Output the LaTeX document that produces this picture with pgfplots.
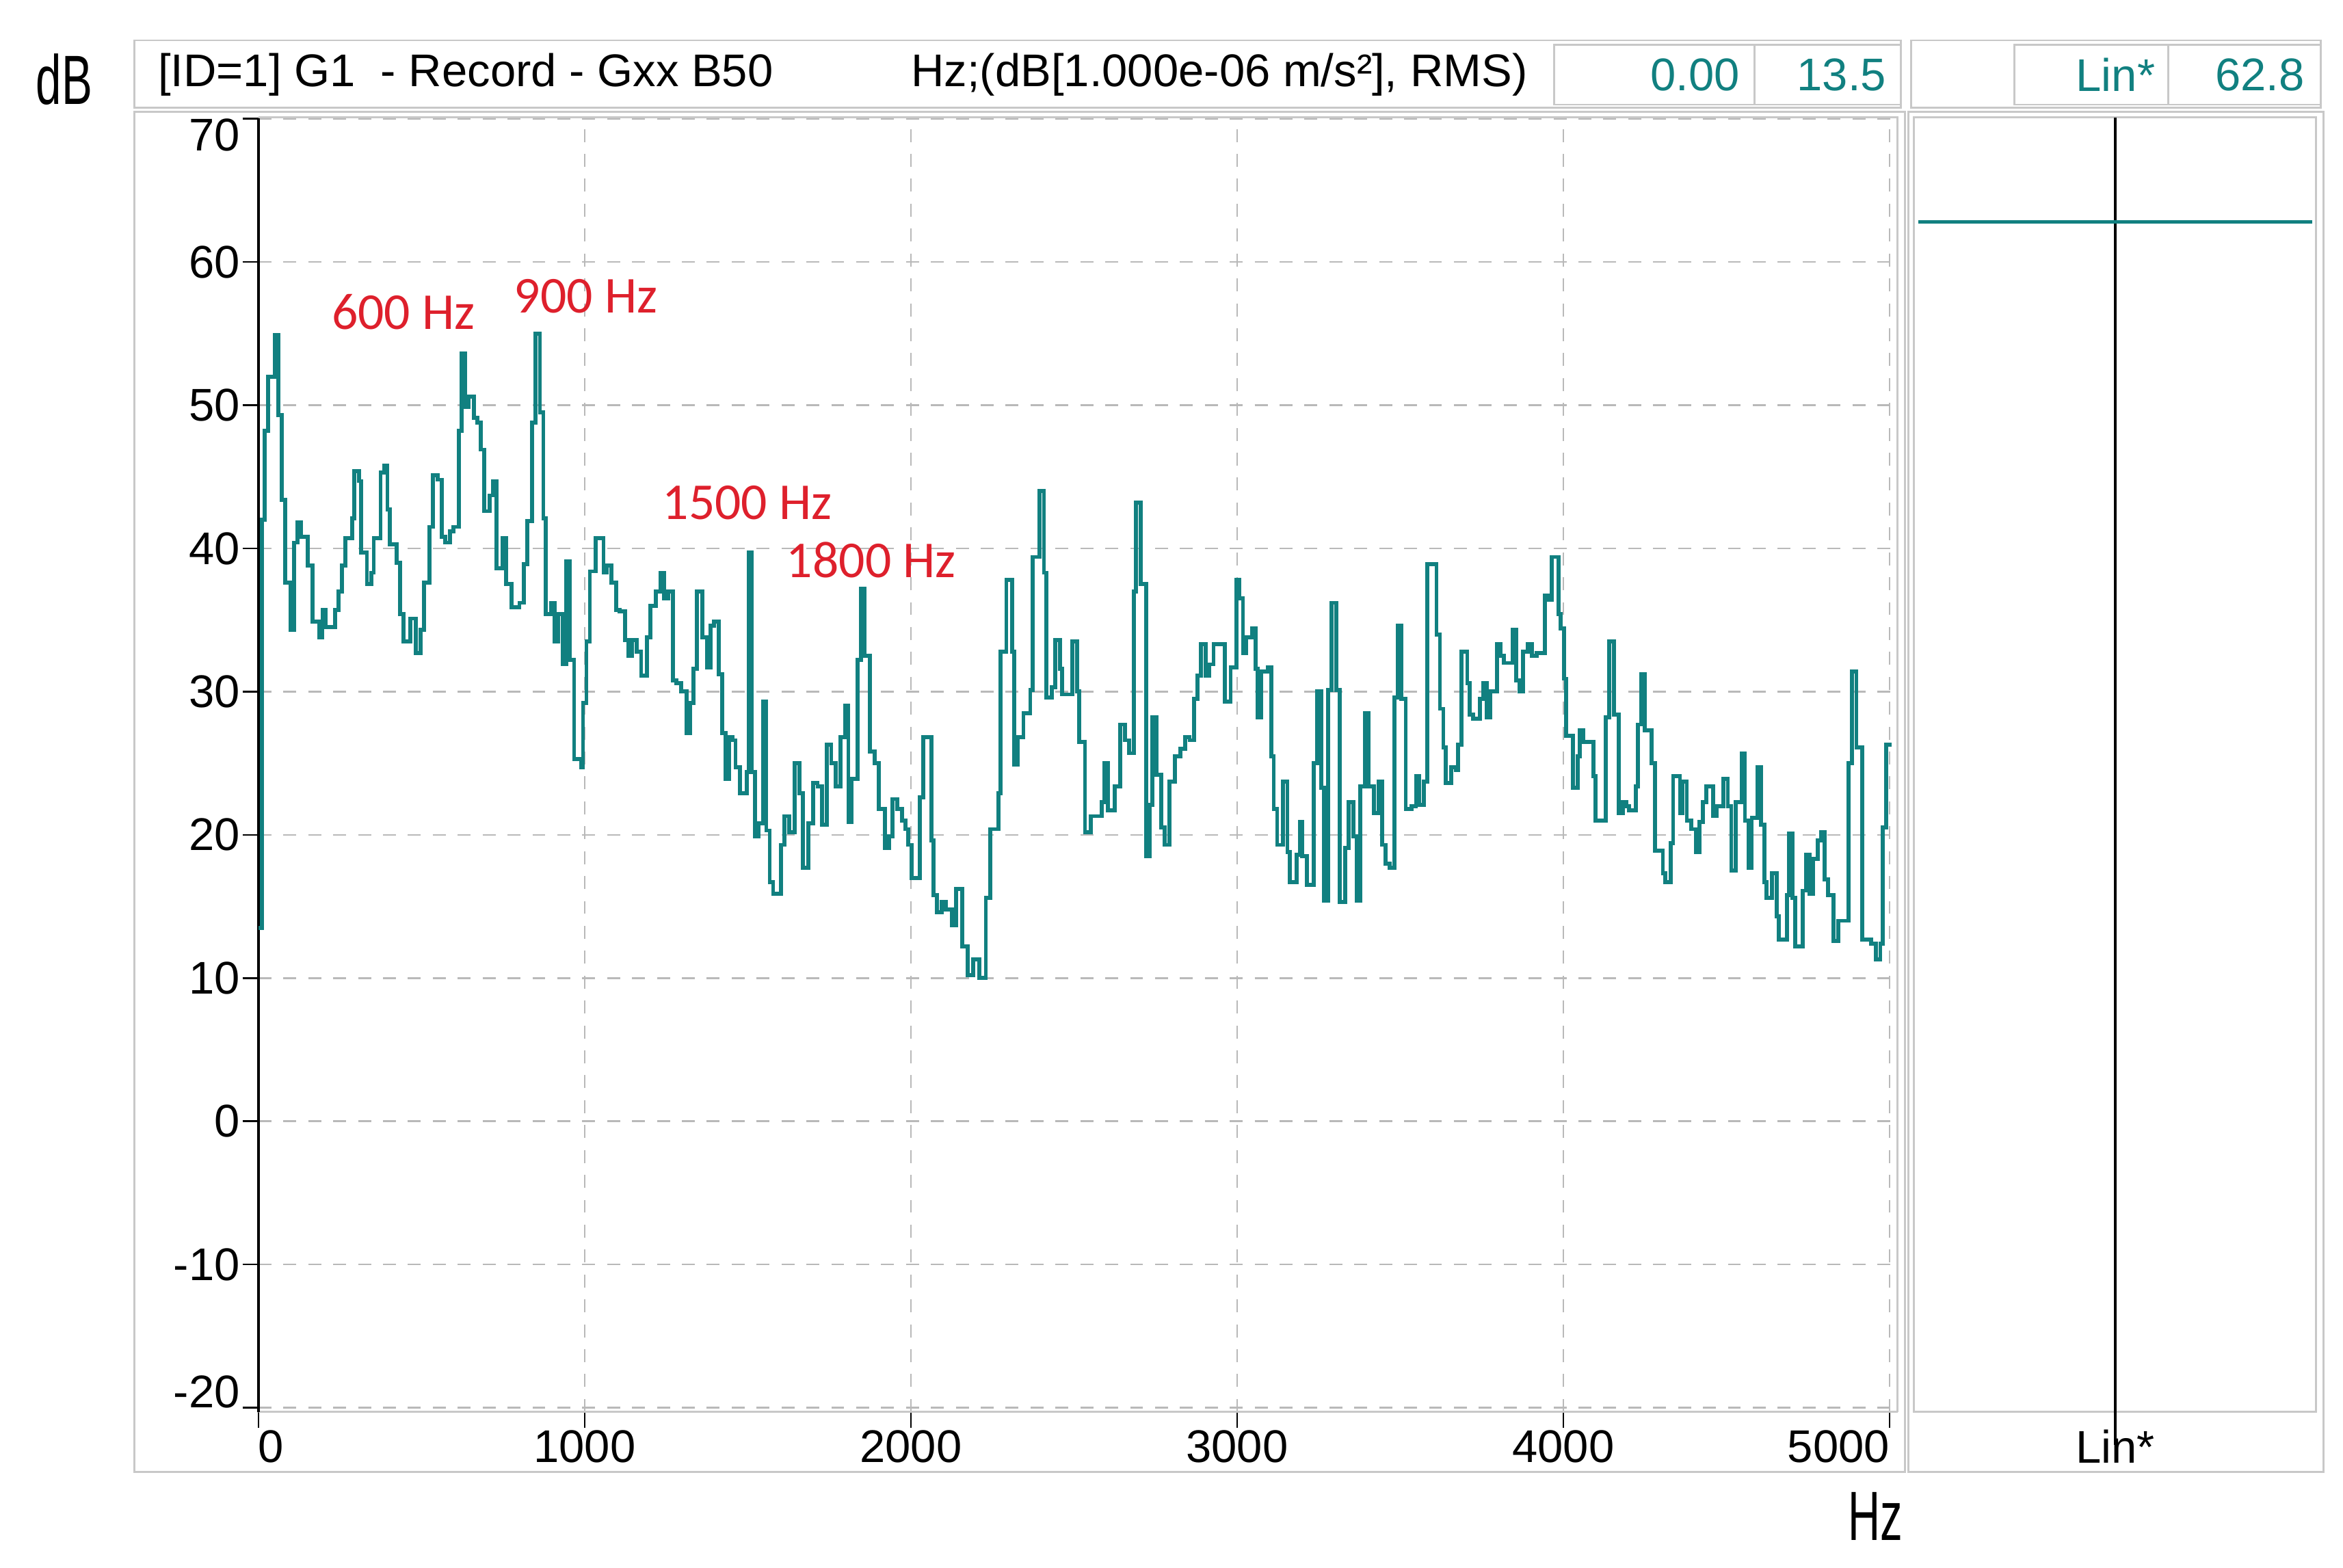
\documentclass[border=0pt]{standalone}
\usepackage{fontspec}
\setmainfont{Liberation Sans}
\newfontfamily\carlito{Carlito}
\usepackage{pgfplots}
\pgfplotsset{compat=1.18}
\definecolor{specteal}{RGB}{17,128,128}
\definecolor{annred}{RGB}{222,32,44}
\definecolor{framegray}{RGB}{200,200,200}
\definecolor{gridgray}{RGB}{185,185,185}
\begin{document}
\begin{tikzpicture}
% main spectrum panel
\begin{axis}[at={(51.9pt,-283.5pt)}, anchor=south west,
  scale only axis, width=329.1pt, height=259.95pt,
  xmin=0, xmax=5025, ymin=-20.3, ymax=70.1,
  axis lines*=left,
  x axis line style={framegray, line width=0.4pt},
  y axis line style={black, line width=0.6pt},
  xtick={0,1000,2000,3000,4000,5000},
  xticklabels={\makebox[0pt][l]{0},1000,2000,3000,4000,\makebox[0pt][r]{5000}},
  ytick={-20,-10,...,70},
  yticklabels={\smash{-20},-10,0,10,20,30,40,50,60,\smash{\raisebox{-0.7em}{70}}},
  grid=major,
  major grid style={gridgray, dash pattern=on 2.6pt off 2.4pt, line width=0.35pt},
  tick align=outside, major tick length=3.2pt,
  tick style={black, line width=0.35pt},
  ticklabel style={font=\fontsize{9.2}{10}\selectfont},
  xticklabel style={yshift=3pt},
  yticklabel style={xshift=3pt},
  clip=false]
\addplot[const plot mark left, specteal, line width=0.8pt] coordinates {
(0,13.5) (11.2,42.0) (18.2,48.2) (28.7,52.0) (49.6,54.9) (61.5,49.3) (70.6,43.4)
(81.0,37.6) (98.5,34.3) (109,40.4) (119.4,41.8) (129.9,40.8) (150.8,38.8)
(164.8,34.9) (185.7,33.8) (196.2,35.7) (206.7,34.5) (234.6,35.7) (245,37.0)
(255.5,38.8) (266,40.7) (286.9,42.1) (293.9,45.4) (307.9,44.7) (314.9,39.7)
(332.3,37.5) (346.3,38.3) (353.2,40.7) (374.2,45.3) (384.6,45.8) (395.1,42.7)
(402.1,40.3) (423,39.0) (433.5,35.4) (444,33.5) (464.9,35.1) (482.4,32.7)
(496.3,34.3) (506.8,37.6) (524.3,41.5) (534.7,45.1) (548.7,44.8) (562.6,40.8)
(573.1,40.4) (587.1,41.2) (597.5,41.5) (615,48.2) (622,53.6) (632.4,49.9)
(642.9,50.6) (660.4,49.1) (670.8,48.8) (681.3,46.9) (691.8,42.6) (709.2,43.7)
(719.7,44.7) (730.2,38.6) (747.6,40.7) (758.1,37.5) (775.5,35.9) (800,36.2)
(813.9,38.9) (824.4,41.9) (838.3,48.8) (848.8,55.0) (862.8,49.5) (873.3,42.1)
(880.2,35.4) (897.7,36.2) (908.2,33.5) (918.6,35.4) (932.6,31.9) (943.1,39.1)
(953.5,32.2) (967.5,25.3) (988.4,24.7) (994.9,29.2) (1005.4,33.5) (1015.8,38.4)
(1033.3,40.7) (1057.7,38.3) (1068.2,38.8) (1082.1,37.6) (1096.1,35.7)
(1106.6,35.6) (1124,33.6) (1134.5,32.5) (1145,33.6) (1158.9,32.8) (1172.9,31.1)
(1190.3,33.8) (1200.8,36.0) (1218.2,37.0) (1232.2,38.3) (1242.7,36.5)
(1256.6,37.0) (1270.6,30.8) (1281.1,30.6) (1295,30.0) (1312.5,27.1) (1323,29.2)
(1333.4,31.6) (1343.9,37.0) (1361.3,33.8) (1375.3,31.7) (1385.8,34.6)
(1396.2,34.9) (1410.2,31.2) (1420.7,27.1) (1431.1,23.9) (1441.6,26.8)
(1452.1,26.6) (1462.5,24.7) (1476.5,22.9) (1497.4,24.4) (1502.3,39.7)
(1511.4,24.4) (1521.9,19.9) (1532.3,20.8) (1546.3,29.3) (1556.8,20.3)
(1567.2,16.7) (1577.7,15.9) (1602.1,19.3) (1612.6,21.3) (1626.6,20.2) (1644,25.0)
(1658,22.9) (1668.5,17.7) (1685.9,20.8) (1699.9,23.6) (1713.8,23.4) (1727.8,20.7)
(1741.7,26.3) (1755.7,25.0) (1769.7,23.4) (1783.6,26.8) (1797.6,29.0)
(1808.1,20.9) (1818.5,23.9) (1836,32.2) (1846.4,37.2) (1856.9,32.5) (1874.4,25.8)
(1888.3,25.0) (1902.3,21.8) (1919.7,19.1) (1933.7,19.9) (1944.2,22.5)
(1958.1,21.8) (1972.1,21.0) (1982.5,20.4) (1992.5,19.3) (2003,17.0) (2027.4,22.6)
(2037.9,26.8) (2062.3,19.6) (2069.3,15.8) (2079.8,14.6) (2093.7,15.3)
(2107.7,14.8) (2125.1,13.7) (2139.1,16.2) (2156.5,12.2) (2174,10.2) (2191.4,11.3)
(2208.9,10.0) (2229.8,15.6) (2243.8,20.4) (2268.2,22.9) (2275.2,32.8)
(2292.6,37.8) (2310.1,32.8) (2317.1,24.9) (2327.5,26.8) (2345,28.5) (2365.9,30.1)
(2372.9,39.4) (2393.9,44.0) (2407.8,38.3) (2414.8,29.6) (2432.2,30.3)
(2442.7,33.6) (2456.7,31.6) (2463.7,29.8) (2495.1,33.5) (2509,30.0) (2516,26.5)
(2533.5,20.2) (2550.9,21.3) (2585.8,22.3) (2592.8,25.0) (2603.3,21.7)
(2624.2,23.4) (2641.6,27.7) (2655.6,26.6) (2669.6,25.7) (2683.5,37.0)
(2690.5,43.2) (2704.5,37.5) (2721.9,18.5) (2732.4,22.1) (2739.4,28.2)
(2753.3,24.2) (2767.3,20.5) (2777.7,19.3) (2791.7,23.7) (2809.2,25.5)
(2826.6,26.0) (2840.6,26.8) (2854.5,26.6) (2868.5,29.5) (2879,31.1) (2889.4,33.3)
(2903.4,31.1) (2913.9,31.9) (2927.8,33.3) (2962.7,29.3) (2980.2,31.7)
(2997.6,37.8) (3007.5,36.5) (3017.9,32.7) (3028.4,33.8) (3045.9,34.4)
(3056.3,31.6) (3063.3,28.2) (3073.8,31.4) (3094.7,31.7) (3105.2,25.5)
(3112.2,21.8) (3122.6,19.3) (3140.1,23.7) (3154.1,18.8) (3161,16.7) (3182,18.6)
(3192.4,20.9) (3199.4,18.5) (3213.4,16.5) (3234.3,25.0) (3244.8,30.0)
(3258.8,23.3) (3265.7,15.4) (3279.7,30.1) (3290.2,36.2) (3304.1,30.1)
(3314.6,15.3) (3332,19.1) (3342.5,22.3) (3356.5,19.9) (3366.9,15.4) (3377.4,23.4)
(3391.4,28.5) (3401.8,23.4) (3419.3,21.5) (3433.3,23.7) (3443.7,19.3)
(3454.2,18.0) (3468.2,17.7) (3482.1,29.6) (3492.6,34.6) (3503.1,29.5) (3517,21.8)
(3534.5,22.0) (3548.4,24.1) (3558.9,22.1) (3572.9,23.7) (3583.3,38.9)
(3611.2,34.0) (3621.7,28.8) (3632.2,26.1) (3639.2,23.6) (3656.6,24.7)
(3670.6,24.5) (3677.6,26.3) (3688,32.8) (3705.5,30.6) (3712.5,28.4) (3722.9,28.1)
(3743.9,29.5) (3754.3,30.6) (3764.8,28.2) (3775.3,30.0) (3796.2,33.3)
(3806.7,32.5) (3817.2,32.0) (3845.1,34.3) (3855.5,30.8) (3866,30.0) (3876.5,32.8)
(3890.4,33.3) (3904.4,32.5) (3918.4,32.7) (3942.8,36.7) (3953.3,36.4)
(3963.7,39.4) (3984.7,35.4) (3991.7,34.4) (4002.1,30.9) (4008.7,26.9)
(4029.6,23.3) (4043.6,25.5) (4050.6,27.3) (4061,26.5) (4092.4,24.1) (4099.4,21.0)
(4130.8,28.2) (4141.3,33.5) (4155.3,28.4) (4169.2,21.5) (4183.2,22.3)
(4193.7,22.0) (4200.6,21.7) (4221.6,23.4) (4228.5,27.7) (4239,31.2) (4249.5,27.3)
(4270.4,25.0) (4280.9,18.9) (4305.3,17.3) (4312.3,16.7) (4329.8,19.4)
(4336.7,24.1) (4357.7,21.5) (4364.7,23.7) (4378.6,21.0) (4392.6,20.4)
(4406.5,18.8) (4417,20.9) (4427.5,22.3) (4438,23.4) (4458.9,21.3) (4469.4,22.0)
(4490.3,23.9) (4504.3,22.0) (4514.7,17.5) (4528.7,22.3) (4546.1,25.7)
(4556.6,21.0) (4567.1,17.7) (4577.6,21.2) (4595,24.7) (4605.5,20.7) (4616,16.7)
(4622.9,15.6) (4640.4,17.3) (4654.3,14.3) (4661.3,12.7) (4685.7,15.8)
(4692.7,20.1) (4703.2,15.6) (4710.2,12.2) (4734.6,16.1) (4745.1,18.6)
(4755.5,15.9) (4766,18.3) (4780,19.6) (4790.4,20.2) (4800.9,16.9) (4811.4,15.8)
(4828.8,12.6) (4842.8,14.0) (4874.2,25.0) (4884.7,31.4) (4898.6,26.1)
(4916.1,12.7) (4944,12.4) (4958,11.3) (4972,12.4) (4978.9,20.5) (4989.4,26.3)
(5006.8,26.3)
};
\begin{scope}[font=\carlito\fontsize{10.4}{11}\selectfont, text=annred]
\node at (axis cs:444,56.5) {600 Hz};
\node at (axis cs:1003,57.6) {900 Hz};
\node at (axis cs:1498,43.2) {1500 Hz};
\node at (axis cs:1878,39.2) {1800 Hz};
\end{scope}
\end{axis}

% side panel with the overall level
\begin{axis}[at={(384.3pt,-283.5pt)}, anchor=south west,
  scale only axis, width=80.7pt, height=259.95pt,
  xmin=0, xmax=1, ymin=-20.3, ymax=70.1,
  axis line style={framegray, line width=0.4pt},
  ytick=\empty, xtick={0.5}, xticklabels={Lin*},
  major tick length=0pt,
  ticklabel style={font=\fontsize{9.2}{10}\selectfont},
  clip=false]
\addplot[black, line width=0.6pt] coordinates {(0.5,-22.6) (0.5,70.1)};
\addplot[specteal, line width=0.6pt] coordinates {(0.01,62.8) (0.99,62.8)};
\end{axis}

\begin{scope}[x=0.3pt, y=-0.3pt]
\path (0,0) rectangle (1568,1049);
% frames
\draw[framegray, line width=0.4pt] (90,27) rectangle (1272,72);
\draw[framegray, line width=0.4pt] (1040,30) rectangle (1174,70);
\draw[framegray, line width=0.4pt] (1174,30) rectangle (1272,70);
\draw[framegray, line width=0.4pt] (1279,27) rectangle (1553,72);
\draw[framegray, line width=0.4pt] (1348,30) rectangle (1451,70);
\draw[framegray, line width=0.4pt] (1451,30) rectangle (1553,70);
\draw[framegray, line width=0.4pt] (90,75) rectangle (1275,985);
\draw[framegray, line width=0.4pt] (1277,75) rectangle (1555,985);
\draw[framegray, line width=0.4pt] (173,78.5) -- (1270,78.5) -- (1270,945);
% header texts
\node[anchor=west, font=\fontsize{9.2}{10}\selectfont] at (94,50) {[ID=1] G1\ \ - Record - Gxx B50};
\node[anchor=east, font=\fontsize{9.2}{10}\selectfont] at (1034,50) {Hz;(dB[1.000e-06 m/s²], RMS)};
\node[anchor=east, font=\fontsize{9.2}{10}\selectfont, text=specteal] at (1176,50) {0.00};
\node[anchor=east, font=\fontsize{9.2}{10}\selectfont, text=specteal] at (1274,50) {13.5};
\node[anchor=east, font=\fontsize{9.2}{10}\selectfont, text=specteal] at (1454,50) {Lin*};
\node[anchor=east, font=\fontsize{9.2}{10}\selectfont, text=specteal] at (1554,50) {62.8};
% unit labels
\node[font=\fontsize{14}{15}\selectfont] at (43,53) {\scalebox{0.66}[1]{dB}};
\node[font=\fontsize{14}{15}\selectfont] at (1255,1015) {\scalebox{0.64}[1]{Hz}};
\end{scope}
\end{tikzpicture}
\end{document}
